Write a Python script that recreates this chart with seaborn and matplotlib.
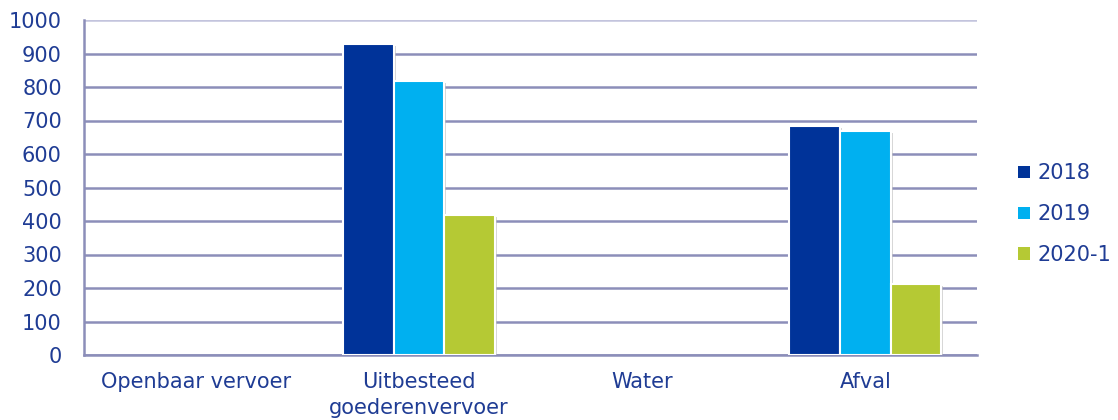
import matplotlib
matplotlib.use("Agg")
import matplotlib.pyplot as plt
import matplotlib.patheffects as pe
from matplotlib.patches import Patch
import pandas as pd
import seaborn as sns

categories = ["Openbaar vervoer", "Uitbesteed\ngoederenvervoer", "Water", "Afval"]
series = ["2018", "2019", "2020-1"]
values_2018 = [0, 928, 0, 683]
values_2019 = [0, 818, 0, 668]
values_2020 = [0, 417, 0, 212]
yticks = [0, 100, 200, 300, 400, 500, 600, 700, 800, 900, 1000]

colors = ["#003399", "#00B0F0", "#B5C934"]
text_color = "#1F3C94"
grid_color = "#8C8EB9"

rows = []
for name, vals in zip(series, [values_2018, values_2019, values_2020]):
    for cat, v in zip(categories, vals):
        rows.append({"categorie": cat, "jaar": name, "waarde": v})
df = pd.DataFrame(rows)

sns.set_theme(style="white")
plt.rcParams["font.family"] = ["DejaVu Sans"]

fig = plt.figure(figsize=(11.18, 4.2), dpi=100)
ax = fig.add_axes([84 / 1118, 1 - 355 / 420, (977 - 84) / 1118, (355 - 20) / 420])

sns.barplot(data=df, x="categorie", y="waarde", hue="jaar", order=categories,
            hue_order=series, palette=colors, width=0.68, saturation=1,
            edgecolor="white", linewidth=1.5, ax=ax, zorder=3, legend=False)

# bars with a value get a soft drop shadow; empty ones stay invisible
for container in ax.containers:
    for patch in container:
        if patch.get_height() > 0:
            patch.set_path_effects([pe.SimplePatchShadow(offset=(1.5, -1.5), shadow_rgbFace="#bbbbbb", alpha=0.6), pe.Normal()])
        else:
            patch.set_visible(False)

ax.set_ylim(0, 1000)
ax.set_yticks(yticks)
ax.set_yticklabels([str(t) for t in yticks])
ax.yaxis.grid(True, color=grid_color, linewidth=1.8, zorder=0)
ax.yaxis.get_gridlines()[-1].set_color("#C3C4DD")
ax.set_axisbelow(True)
ax.set_xlabel("")
ax.set_ylabel("")
ax.tick_params(axis="both", length=0, labelsize=15, labelcolor=text_color)
ax.tick_params(axis="y", pad=16)
ax.tick_params(axis="x", pad=12)
for lbl in ax.get_xticklabels():
    lbl.set_linespacing(1.4)

for side in ["top", "right"]:
    ax.spines[side].set_visible(False)
for side in ["left", "bottom"]:
    ax.spines[side].set_color(grid_color)
    ax.spines[side].set_linewidth(1.8)

handles = [Patch(facecolor=c, edgecolor="none") for c in colors]
ax.legend(handles, series, loc="center left", bbox_to_anchor=(1.037, 0.42),
          frameon=False, fontsize=15, labelcolor=text_color,
          handlelength=0.55, handleheight=0.55, handletextpad=0.35,
          labelspacing=1.0, borderaxespad=0)

fig.savefig("out.png", dpi=100)
